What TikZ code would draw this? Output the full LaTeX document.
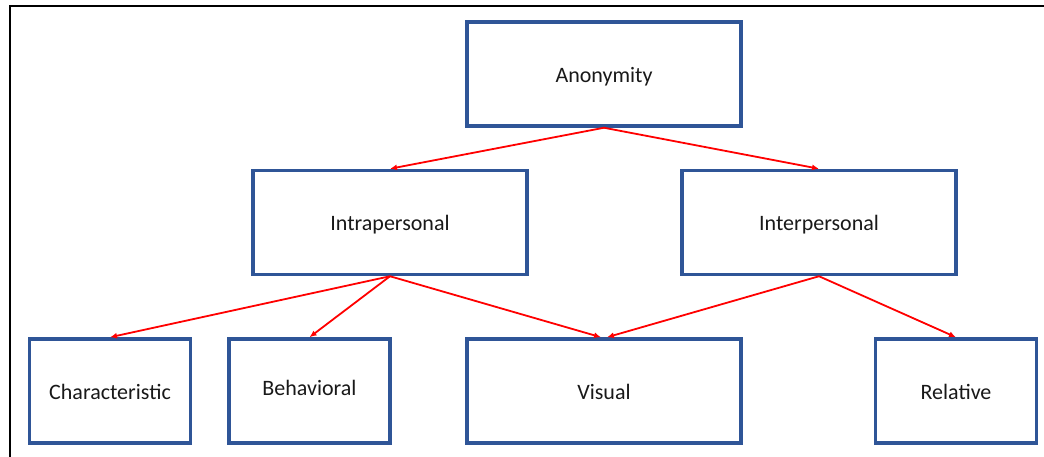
\documentclass[tikz,border=0pt]{standalone}
\usepackage{fontspec}
\setmainfont{Carlito}
\usetikzlibrary{arrows.meta}
\definecolor{boxblue}{HTML}{2F5597}
\begin{document}
\begin{tikzpicture}[x=1pt,y=-1pt,
  box/.style={draw=boxblue, line width=3.5pt, fill=white, minimum height=104pt, inner sep=0pt,
    text height=18pt, text depth=1.5pt,
    font=\fontsize{22}{26}\selectfont, text=black!90},
  wide/.style={box, minimum width=274pt},
  narrow/.style={box, minimum width=161pt},
  link/.style={draw=red, line width=1.8pt, -{Latex[length=7pt,width=6pt]}}]
\useasboundingbox (0,0) rectangle (1044,457);
\fill[white] (0,0) rectangle (1044,457);
\draw[line width=2pt, black] (10,457) -- (10,6) -- (1044,6);

\node[wide] (anon) at (604,74) {Anonymity};
\node[wide] (intra) at (390,222.5) {Intrapersonal};
\node[wide] (inter) at (819,222.5) {Interpersonal};
\node[narrow] (char) at (110,391) {Characteristic};
\node[narrow] (beh) at (309.5,391) {\raisebox{3.5pt}{Behavioral}};
\node[wide] (vis) at (604,391) {Visual};
\node[narrow] (rel) at (956,391) {Relative};

\draw[link] (anon.south) -- (intra.north);
\draw[link] (anon.south) -- (inter.north);
\draw[link] (intra.south) -- (char.north);
\draw[link] (intra.south) -- (beh.north);
\draw[link] (intra.south) -- ([xshift=-3pt]vis.north);
\draw[link] (inter.south) -- ([xshift=3pt]vis.north);
\draw[link] (inter.south) -- (rel.north);
\end{tikzpicture}
\end{document}
